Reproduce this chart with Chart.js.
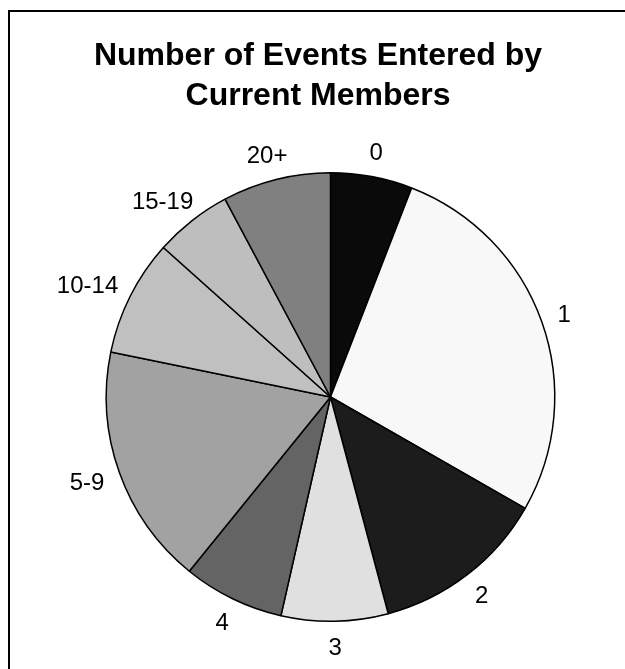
<!DOCTYPE html>
<html>
<head>
<meta charset="utf-8">
<title>Number of Events Entered by Current Members</title>
<script src="https://cdn.jsdelivr.net/npm/chart.js@4/dist/chart.umd.min.js"></script>
<style>
  html, body { margin: 0; padding: 0; background: #fff; }
  #wrap { width: 625px; height: 669px; position: relative; }
</style>
</head>
<body>
<div id="wrap"><canvas id="events-chart" width="625" height="669"></canvas></div>
<script>
// Dados do gráfico (em % do total)
const categories = ['0', '1', '2', '3', '4', '5-9', '10-14', '15-19', '20+'];
const shares = [5.9, 27.4, 12.6, 7.7, 7.3, 17.4, 8.4, 5.6, 7.8];
const sliceColors = ['#0a0a0a', '#f8f8f8', '#1c1c1c', '#e0e0e0', '#646464', '#a2a2a2', '#c0c0c0', '#bebebe', '#808080'];
const titleLines = ['Number of Events Entered by', 'Current Members'];

const FONT = '"Liberation Sans", Arial, sans-serif';

// Moldura + título desenhados no canvas
const framePlugin = {
  id: 'frame',
  beforeDraw(chart) {
    const ctx = chart.ctx;
    ctx.save();
    ctx.fillStyle = '#ffffff';
    ctx.fillRect(0, 0, chart.width, chart.height);
    ctx.strokeStyle = '#000000';
    ctx.lineWidth = 2;
    ctx.strokeRect(9, 11, 1000, 1000);
    ctx.restore();
  },
  afterDraw(chart) {
    const ctx = chart.ctx;
    ctx.save();
    ctx.fillStyle = '#000000';
    ctx.font = 'bold 32px ' + FONT;
    ctx.textAlign = 'center';
    ctx.textBaseline = 'alphabetic';
    titleLines.forEach((line, i) => {
      ctx.fillText(line, 318, 65 + i * 40);
    });
    ctx.restore();
  }
};

// Rótulos das fatias, fora do círculo
const outsideLabels = {
  id: 'outsideLabels',
  afterDatasetsDraw(chart) {
    const ctx = chart.ctx;
    const meta = chart.getDatasetMeta(0);
    ctx.save();
    ctx.fillStyle = '#000000';
    ctx.font = '24px ' + FONT;
    ctx.textAlign = 'center';
    ctx.textBaseline = 'alphabetic';
    meta.data.forEach((arc, i) => {
      const p = arc.getProps(['x', 'y', 'startAngle', 'endAngle', 'outerRadius'], true);
      const mid = (p.startAngle + p.endAngle) / 2;
      const c = Math.cos(mid), s = Math.sin(mid);
      const d = p.outerRadius + 17;
      const text = chart.data.labels[i];
      const w = ctx.measureText(text).width;
      const h = 17;
      const cx = p.x + d * c + (w / 2) * c;
      const cy = p.y + d * s + (h / 2) * s;
      ctx.fillText(text, cx, cy + h / 2);
    });
    ctx.restore();
  }
};

const ctx = document.getElementById('events-chart').getContext('2d');
window.myChart = new Chart(ctx, {
  type: 'pie',
  data: {
    labels: categories,
    datasets: [{
      data: shares,
      backgroundColor: sliceColors,
      borderColor: '#000000',
      borderWidth: 1.5,
      hoverOffset: 0
    }]
  },
  options: {
    responsive: false,
    animation: false,
    events: [],
    layout: {
      padding: { top: 172, bottom: 47, left: 36, right: 0 }
    },
    plugins: {
      legend: { display: false },
      title: { display: false },
      tooltip: { enabled: false }
    }
  },
  plugins: [framePlugin, outsideLabels]
});
</script>
</body>
</html>
